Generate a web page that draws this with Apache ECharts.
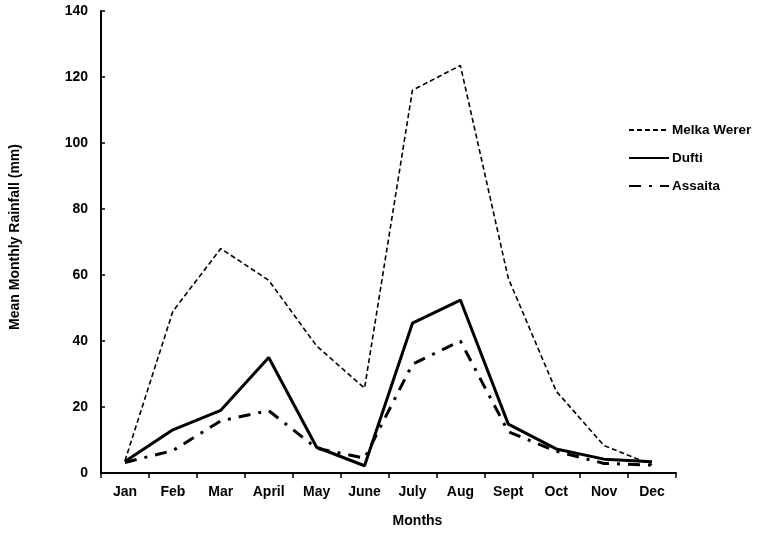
<!DOCTYPE html>
<html>
<head>
<meta charset="utf-8">
<script src="https://cdn.jsdelivr.net/npm/echarts@6/dist/echarts.min.js"></script>
<style>html,body{margin:0;padding:0;background:#fff}#c{width:757px;height:533px}</style>
</head>
<body>
<div id="c"></div>
<script>
var months = ['Jan','Feb','Mar','April','May','June','July','Aug','Sept','Oct','Nov','Dec'];
var melkaWerer = [3.7, 49, 68, 58.4, 38.5, 25.7, 116, 123.5, 59, 24.8, 8.3, 2.5];
var dufti = [3.5, 13.1, 19, 35, 7.8, 2.2, 45.4, 52.4, 14.8, 7.3, 4.2, 3.4];
var assaita = [3.2, 6.8, 15.8, 18.9, 7.5, 4.5, 33, 40, 12.5, 6.6, 2.9, 2.4];
var yTicks = {min: 0, max: 140, interval: 20};

var font = 'Liberation Sans, Arial, sans-serif';
var chart = echarts.init(document.getElementById('c'));
chart.setOption({
  animation: false,
  backgroundColor: '#fff',
  grid: {left: 95, right: 81, top: 11, bottom: 59},
  legend: {
    orient: 'vertical', left: 623, top: 118, itemWidth: 40, itemHeight: 14, itemGap: 14,
    itemStyle: {opacity: 0},
    textStyle: {fontFamily: font, fontWeight: 'bold', fontSize: 13.5, color: '#000', padding: [0, 0, 0, -2]},
    data: ['Melka Werer', 'Dufti', 'Assaita']
  },
  xAxis: {
    type: 'category', data: months, boundaryGap: true,
    name: 'Months', nameLocation: 'middle', nameGap: 41,
    nameTextStyle: {fontFamily: font, fontWeight: 'bold', fontSize: 14, color: '#000', padding: [0, 0, 0, 58]},
    axisLine: {lineStyle: {color: '#000', width: 2}},
    axisTick: {show: true, length: 5, inside: false, lineStyle: {color: '#000', width: 1.5}},
    axisLabel: {fontFamily: font, fontWeight: 'bold', fontSize: 14, color: '#000', margin: 12},
    splitLine: {show: false}
  },
  yAxis: {
    type: 'value', min: yTicks.min, max: yTicks.max, interval: yTicks.interval,
    name: 'Mean Monthly Rainfall (mm)', nameLocation: 'middle', nameGap: 79,
    nameTextStyle: {fontFamily: font, fontWeight: 'bold', fontSize: 14, color: '#000', padding: [0, 0, 0, 10]},
    axisLine: {show: true, lineStyle: {color: '#000', width: 2}},
    axisTick: {show: true, length: 4, inside: true, lineStyle: {color: '#000', width: 1.5}},
    axisLabel: {fontFamily: font, fontWeight: 'bold', fontSize: 14, color: '#000', margin: 13},
    splitLine: {show: false}
  },
  series: [
    {name: 'Melka Werer', type: 'line', data: melkaWerer, symbol: 'none', color: '#000',
     lineStyle: {color: '#000', width: 1.6, type: [5, 3]}},
    {name: 'Dufti', type: 'line', data: dufti, symbol: 'none', color: '#000',
     lineStyle: {color: '#000', width: 3}},
    {name: 'Assaita', type: 'line', data: assaita, symbol: 'none', color: '#000',
     lineStyle: {color: '#000', width: 3, type: [12, 8, 3, 8]}}
  ]
});
</script>
</body>
</html>
